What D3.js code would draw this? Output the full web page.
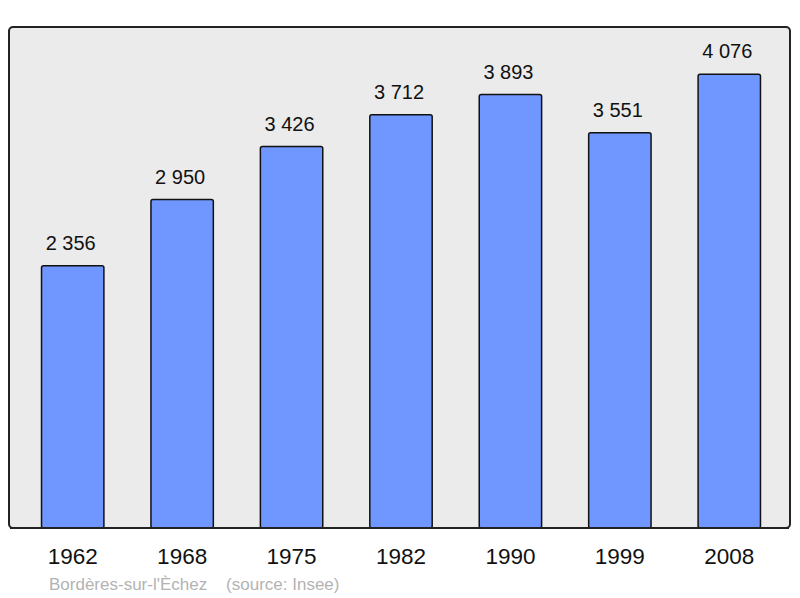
<!DOCTYPE html>
<html>
<head>
<meta charset="utf-8">
<script src="https://cdn.jsdelivr.net/npm/d3@7"></script>
<style>
  body { margin: 0; background: #fff; }
  text { font-family: "Liberation Sans", Arial, sans-serif; }
</style>
</head>
<body>
<div id="chart"></div>
<script>
const years = ["1962", "1968", "1975", "1982", "1990", "1999", "2008"];
const population = [2356, 2950, 3426, 3712, 3893, 3551, 4076];
const commune = "Bordères-sur-l'Èchez";
const source = "(source: Insee)";

const width = 800, height = 598;
const panel = { left: 9, top: 27, right: 790, bottom: 528 };

const data = years.map((y, i) => ({ year: y, value: population[i] }));

let svg = d3.select("#chart")
    .append("svg")
    .attr("width", width)
    .attr("height", height);

/* background panel */
svg.append("rect")
    .attr("x", panel.left)
    .attr("y", panel.top)
    .attr("width", panel.right - panel.left)
    .attr("height", panel.bottom - panel.top)
    .attr("rx", 4)
    .attr("fill", "#ebebeb")
    .attr("stroke", "#222")
    .attr("stroke-width", 2);

let x = d3.scaleBand()
    .domain(years)
    .range([18, 784])
    .paddingInner(0.43)
    .paddingOuter(0.215);

let y = d3.scaleLinear()
    .domain([0, 4500])
    .range([panel.bottom, panel.top]);

let bar = svg.selectAll(".bar")
    .data(data)
    .join("g")
    .attr("class", "bar");

bar.append("rect")
    .attr("x", d => x(d.year))
    .attr("width", x.bandwidth())
    .attr("y", d => y(d.value))
    .attr("height", d => y(0) - y(d.value))
    .attr("rx", 2)
    .attr("fill", "#7097ff")
    .attr("stroke", "#111")
    .attr("stroke-width", 1.5);

bar.append("text")
    .text(d => d3.format(",")(d.value).replace(",", "\u00a0"))
    .attr("x", d => x(d.year) + x.bandwidth() / 2 - 2)
    .attr("y", d => y(d.value) - 16)
    .attr("text-anchor", "middle")
    .style("font-size", "20px")
    .style("fill", "#111");

/* redraw bottom edge of the panel over the bars */
svg.append("line")
    .attr("x1", panel.left + 1)
    .attr("x2", panel.right - 1)
    .attr("y1", panel.bottom)
    .attr("y2", panel.bottom)
    .attr("stroke", "#222")
    .attr("stroke-width", 2);

/* x axis labels */
let xAxis = svg.append("g")
    .attr("transform", `translate(0,${panel.bottom})`)
    .call(d3.axisBottom(x).tickSize(0).tickPadding(20));
xAxis.select(".domain").remove();
xAxis.selectAll("text")
    .style("font-family", "'Liberation Sans', Arial, sans-serif")
    .style("font-size", "22.5px")
    .style("fill", "#111");

svg.append("text")
    .attr("x", 49)
    .attr("y", 590)
    .attr("xml:space", "preserve")
    .style("white-space", "pre")
    .text(commune + "    " + source)
    .style("font-size", "17px")
    .style("fill", "#b3b3b3");
</script>
</body>
</html>
